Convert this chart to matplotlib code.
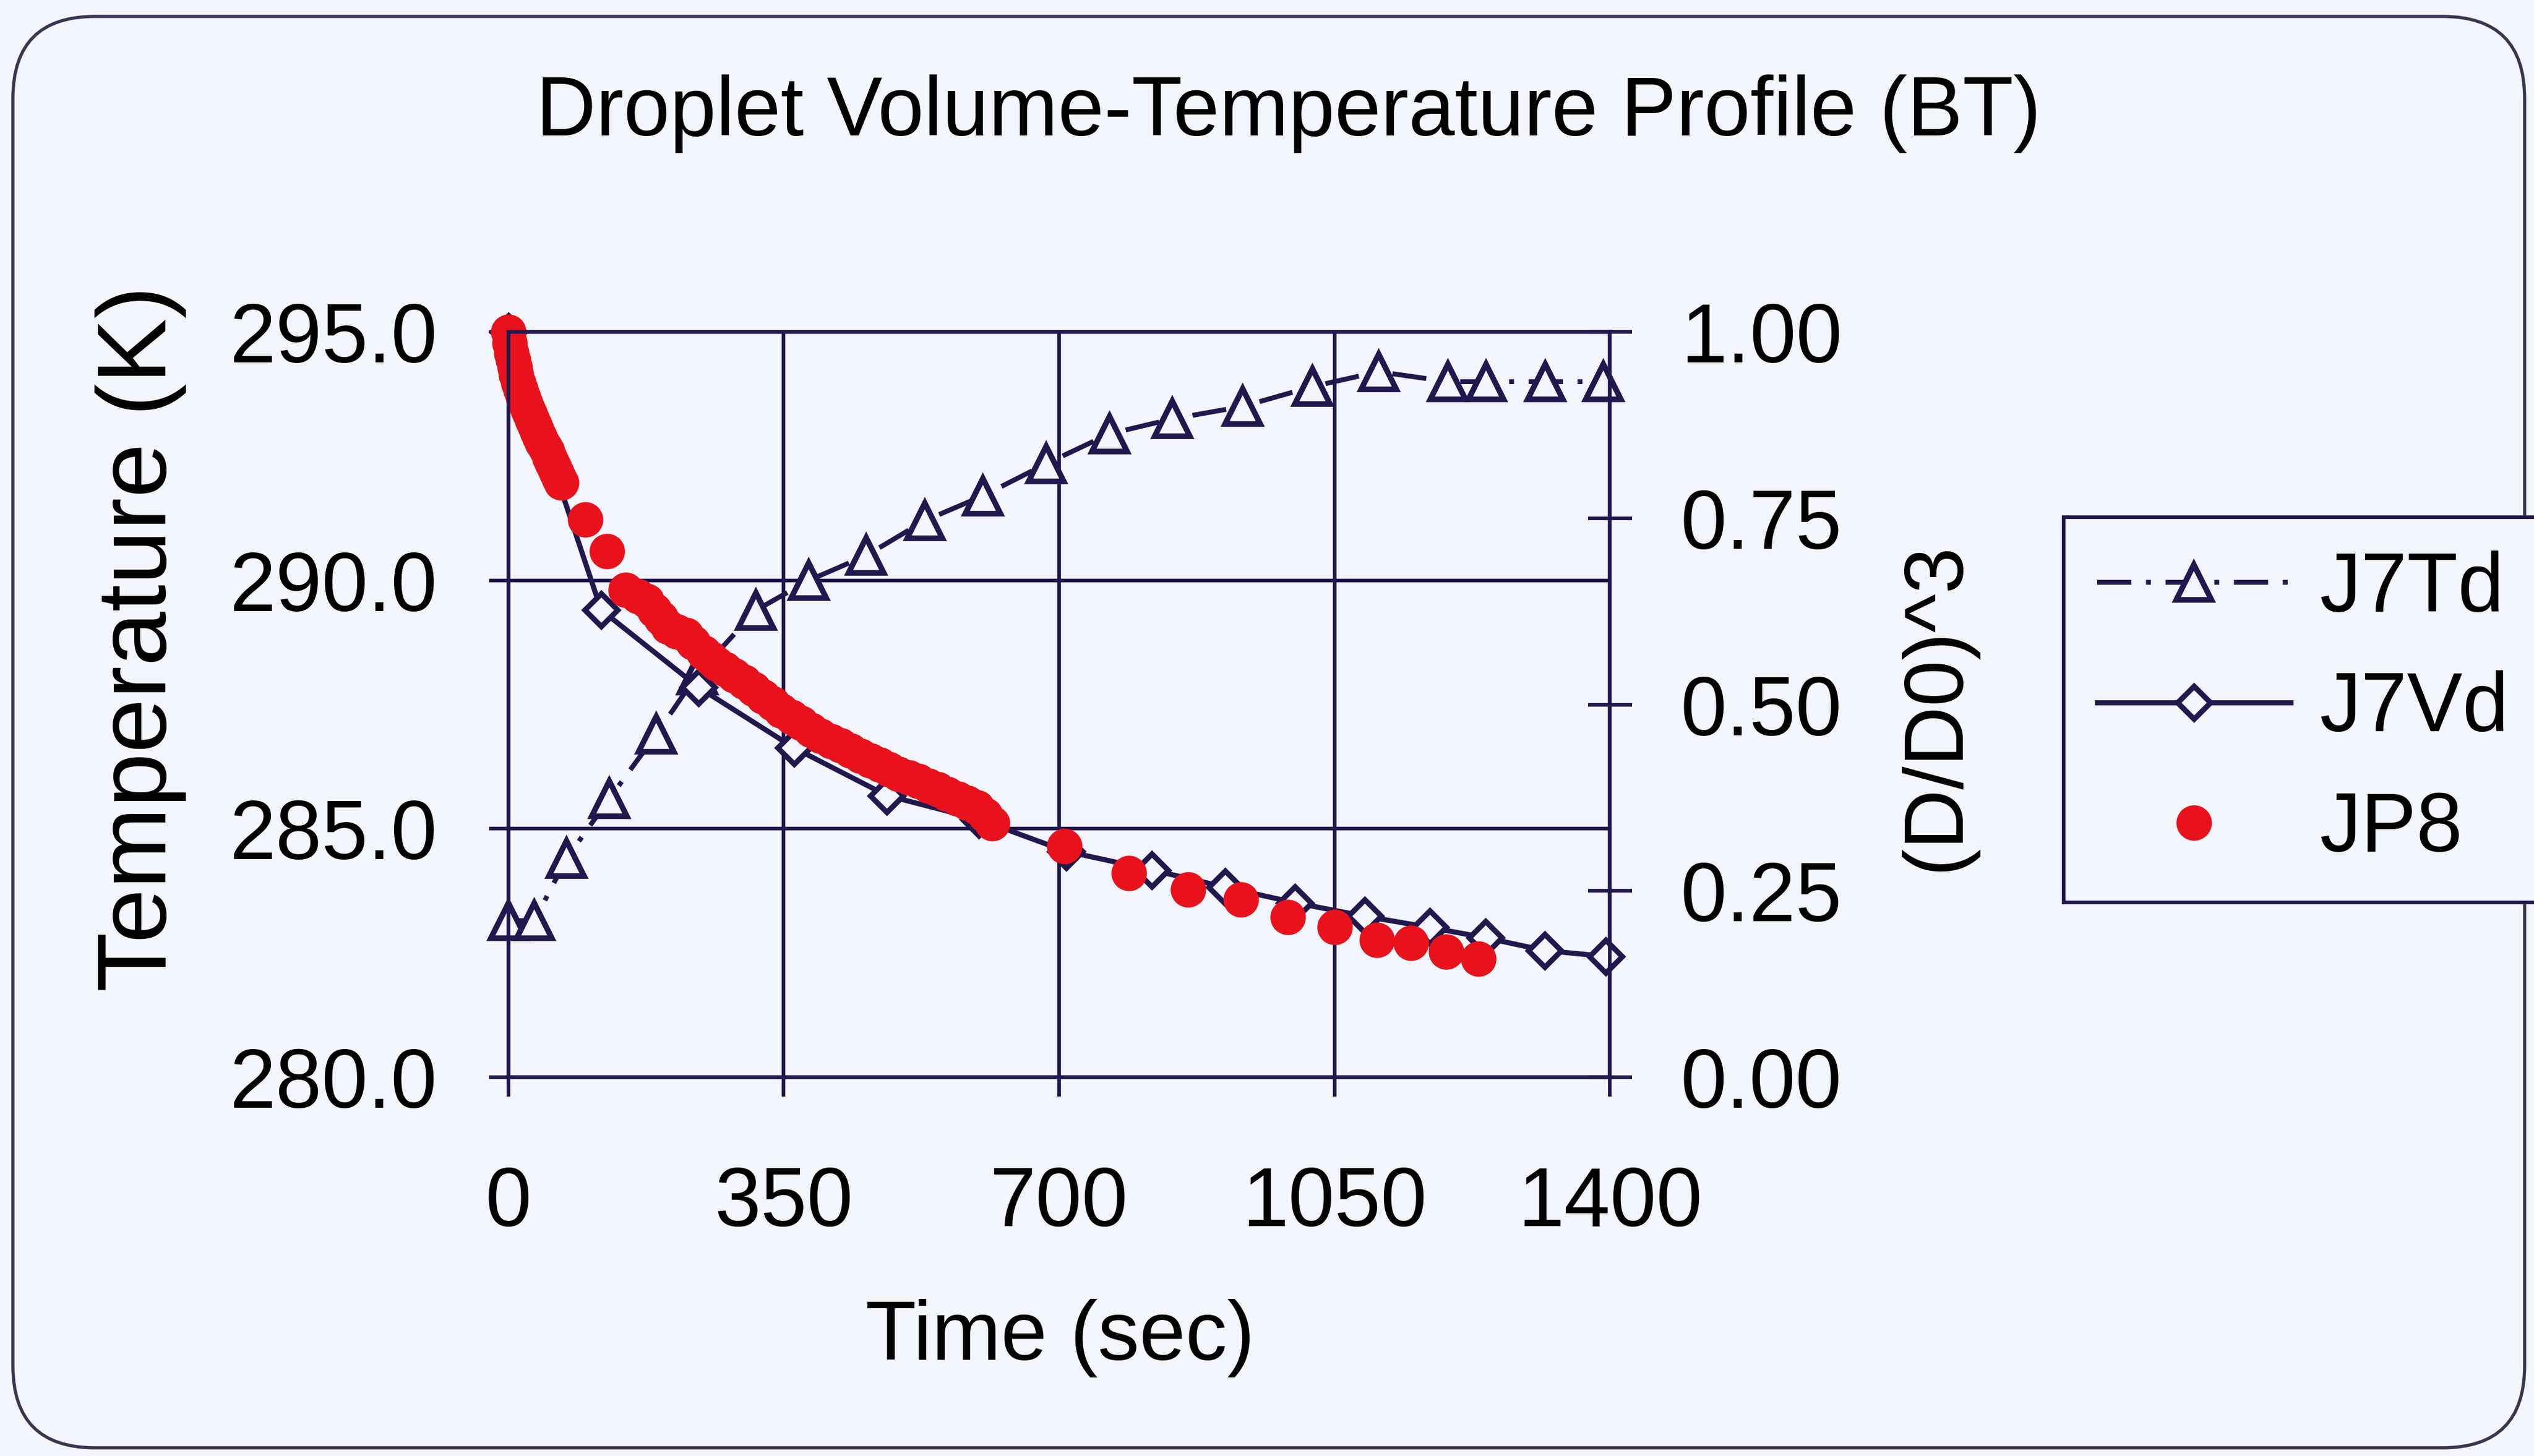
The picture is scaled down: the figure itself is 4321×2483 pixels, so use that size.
import matplotlib
matplotlib.use('Agg')
import matplotlib.pyplot as plt
from matplotlib.patches import FancyBboxPatch
from matplotlib.transforms import IdentityTransform
from matplotlib.ticker import FormatStrFormatter

plt.rcParams['font.family'] = ['Liberation Sans', 'DejaVu Sans']

# J7Td - droplet temperature (left axis)
td_time = [0, 33, 74, 128, 188, 240, 315, 382, 455, 529, 603, 684, 764, 844,
           933, 1022, 1106, 1194, 1243, 1318, 1392]
td_temp = [283.15, 283.15, 284.4, 285.6, 286.9, 288.1, 289.4, 290.0, 290.5, 291.2,
           291.7, 292.35, 292.95, 293.25, 293.5, 293.9, 294.2, 294.0, 294.0, 294.0, 294.0]

# J7Vd - model volume (right axis)
vd_time = [0, 118, 242, 363, 481, 598, 709, 818, 911, 1000, 1088, 1171, 1242, 1317, 1395]
vd_vol = [1.0, 0.627, 0.523, 0.442, 0.378, 0.346, 0.303, 0.278, 0.255, 0.234,
          0.216, 0.201, 0.187, 0.170, 0.162]

# JP8 - measured volume (right axis)
jp8_time = [0, 2, 4, 6, 8, 10, 13, 16, 19, 22, 25, 28, 31, 34, 37, 40, 43, 46, 49, 52,
            55, 58, 61, 64, 67,
            98, 125, 149, 165, 176, 186, 194, 203, 214, 226, 235, 248, 257, 265, 275,
            287, 300, 312, 324, 336, 347, 360, 372, 385, 397, 410, 422, 435, 447, 460,
            472, 484, 496, 509, 521, 534, 546, 558, 571, 583, 596, 606, 615,
            707, 789, 864, 931, 991, 1050, 1104, 1147, 1192, 1233]
jp8_vol = [1.000, 0.985, 0.972, 0.962, 0.952, 0.943, 0.932, 0.922, 0.913, 0.904, 0.896,
           0.889, 0.881, 0.874, 0.866, 0.859, 0.852, 0.846, 0.840, 0.832, 0.825, 0.818,
           0.811, 0.804, 0.798,
           0.748, 0.706, 0.654, 0.645, 0.639, 0.626, 0.616, 0.604, 0.598, 0.593, 0.583,
           0.570, 0.562, 0.555, 0.548, 0.539, 0.530, 0.521, 0.511, 0.501, 0.492, 0.483,
           0.475, 0.466, 0.458, 0.451, 0.445, 0.438, 0.431, 0.425, 0.419, 0.413, 0.407,
           0.402, 0.397, 0.391, 0.386, 0.380, 0.374, 0.368, 0.362, 0.352, 0.341,
           0.310, 0.274, 0.252, 0.238, 0.215, 0.201, 0.184, 0.180, 0.168, 0.159]

x_ticks = [0, 350, 700, 1050, 1400]
t_ticks = [280, 285, 290, 295]
v_ticks = [0, 0.25, 0.5, 0.75, 1.0]

navy = '#22184e'
red = '#e8121c'
bg = '#f3f5fc'

fig = plt.figure(figsize=(4321 / 300, 2483 / 300), dpi=300, facecolor=bg)
ax = fig.add_axes([0.2006, 0.2602, 0.4347, 0.5118])
ax.set_facecolor(bg)
ax2 = ax.twinx()

l1, = ax.plot(td_time, td_temp, color=navy, lw=2.0, linestyle=(0, (7, 3, 1, 3)),
              marker='^', ms=14.5, mew=2.3, mfc=bg, mec=navy, label='J7Td', clip_on=False)
l2, = ax2.plot(vd_time, vd_vol, color=navy, lw=2.1, marker='D', ms=9.5, mew=2.2,
               mfc=bg, mec=navy, label='J7Vd', clip_on=False)
l3, = ax2.plot(jp8_time, jp8_vol, linestyle='none', marker='o', ms=13.5, color=red,
               mec=red, label='JP8', clip_on=False)

ax.set_xlim(0, 1400)
ax.set_ylim(280, 295)
ax2.set_ylim(0, 1)
ax.set_xticks(x_ticks)
ax.set_yticks(t_ticks)
ax2.set_yticks(v_ticks)
ax.yaxis.set_major_formatter(FormatStrFormatter('%.1f'))
ax2.yaxis.set_major_formatter(FormatStrFormatter('%.2f'))

ax.grid(True, color=navy, lw=1.5)
ax.set_axisbelow(True)
ax.tick_params(axis='y', direction='out', length=8, width=1.5, color=navy, labelsize=34, pad=21)
ax.tick_params(axis='x', direction='out', length=8, width=1.5, color=navy, labelsize=34, pad=28)
ax2.tick_params(axis='y', direction='inout', length=18, width=1.5, color=navy, labelsize=34, pad=20)
for a in (ax, ax2):
    for s in a.spines.values():
        s.set_color(navy)
        s.set_linewidth(1.5)

fig.text(0.5085, 0.922, 'Droplet Volume-Temperature Profile (BT)', ha='center', va='center', fontsize=34)
fig.text(0.4184, 0.081, 'Time (sec)', ha='center', va='center', fontsize=34)
fig.text(0.0555, 0.5614, 'Temperature (K)', ha='center', va='center', rotation=90, fontsize=40)
fig.text(0.7642, 0.5147, '(D/D0)^3', ha='center', va='center', rotation=90, fontsize=34)

leg = fig.legend([l1, l2, l3], ['J7Td', 'J7Vd', 'JP8'], loc='upper left',
                 bbox_to_anchor=(0.8144, 0.6448), fontsize=34, frameon=True, fancybox=False,
                 edgecolor=navy, facecolor=bg, framealpha=1, handlelength=2.33,
                 handletextpad=0.35, borderpad=0.4, labelspacing=0.5, borderaxespad=0)
leg.get_frame().set_linewidth(1.5)

border = FancyBboxPatch((22, 14), 4283, 2441, boxstyle='round,pad=0,rounding_size=140',
                        transform=IdentityTransform(), fill=False, ec='#3a3550', lw=1.3)
fig.add_artist(border)

fig.savefig('out.png', dpi=300, facecolor=bg)
